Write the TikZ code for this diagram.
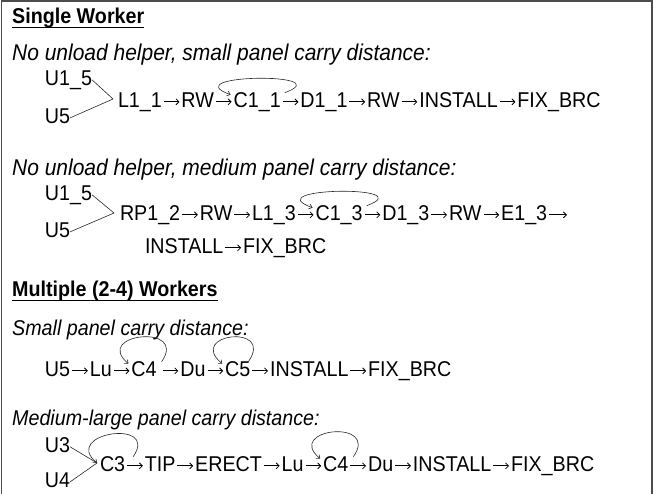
\documentclass[tikz,border=0pt]{standalone}
\usepackage{fontspec}
\setmainfont{Liberation Sans}[FakeStretch=0.92]
\usetikzlibrary{positioning}
\usetikzlibrary{arrows.meta}
\tikzset{
    tok/.style = {inner sep=0pt, outer sep=0pt, text height=15.3pt, text depth=3pt, font=\fontsize{21.4}{25}\selectfont},
    head/.style = {inner sep=0pt, anchor=base west, font=\fontsize{21.4}{25}\selectfont\bfseries},
    note/.style = {inner sep=0pt, anchor=base west, font=\fontsize{22.8}{27}\selectfont\itshape},
    notes/.style = {note, font=\fontsize{21.4}{25}\selectfont\itshape},
    uline/.style = {line width=1.5pt, black},
    flow/.style = {-{Straight Barb[length=3pt,width=6pt]}, line width=0.8pt, black, shorten <=2pt, shorten >=2pt},
    edgen/.style = {-, line width=0.6pt, black!85},
    edgel/.style = {-{Straight Barb[length=3pt,width=5pt]}, line width=0.6pt, black!85}, % loop back
    backflat/.style = {out=20, in=160, distance=60pt},
    backtall/.style = {out=55, in=140, distance=47pt},
    frame/.style = {line width=1.6pt, black!70}
}

\begin{document}
\begin{tikzpicture}[x=1pt, y=-1pt, node distance=19.7pt]
  \useasboundingbox (0,0) rectangle (654,494);
  \draw[frame] (1.5,494) -- (1.5,1) -- (652,1) -- (652,494);

  % single worker
  \node[head] (h1) at (12,24) {Single Worker};
  \draw[uline] ([yshift=-3.5pt]h1.base west) -- ([yshift=-3.5pt]h1.base east);
  \node[note] (n1) at (12,61) {No unload helper, small panel carry distance:};
  \node[tok, anchor=base west] (s1u1) at (45,86) {U1\_5};
  \node[tok, anchor=base west] (s1u2) at (45,124) {U5};
  \coordinate (s1j) at (113,99);
  \node[tok, anchor=base west] (s1l) at (118,108) {L1\_1};
  \node[tok, right=of s1l] (s1rw) {RW};
  \node[tok, right=of s1rw] (s1c) {C1\_1};
  \node[tok, right=of s1c] (s1d) {D1\_1};
  \node[tok, right=of s1d] (s1rw2) {RW};
  \node[tok, right=of s1rw2] (s1ins) {INSTALL};
  \node[tok, right=of s1ins] (s1fix) {FIX\_BRC};
  \draw[flow] (s1l) -- (s1rw);
  \draw[flow] (s1rw) -- (s1c);
  \draw[flow] (s1c) -- (s1d);
  \draw[flow] (s1d) -- (s1rw2);
  \draw[flow] (s1rw2) -- (s1ins);
  \draw[flow] (s1ins) -- (s1fix);
  \draw[edgen] (s1u1.east) -- (s1j) -- (s1u2.east);
  \draw[edgel] ([xshift=4pt]s1c.north east) to[backflat] ([xshift=-3pt,yshift=-2pt]s1c.north west);

  \node[note] (n2) at (12,176) {No unload helper, medium panel carry distance:};
  \node[tok, anchor=base west] (s2u1) at (45,201) {U1\_5};
  \node[tok, anchor=base west] (s2u2) at (45,238) {U5};
  \coordinate (s2j) at (114,213);
  \node[tok, anchor=base west] (s2rp) at (120,221) {RP1\_2};
  \node[tok, right=of s2rp] (s2rw) {RW};
  \node[tok, right=of s2rw] (s2l) {L1\_3};
  \node[tok, right=of s2l] (s2c) {C1\_3};
  \node[tok, right=of s2c] (s2d) {D1\_3};
  \node[tok, right=of s2d] (s2rw2) {RW};
  \node[tok, right=of s2rw2] (s2e) {E1\_3};
  \coordinate[right=of s2e] (s2end);
  \node[tok, anchor=base west] (s2ins) at (145,254) {INSTALL};
  \node[tok, right=of s2ins] (s2fix) {FIX\_BRC};
  \draw[flow] (s2rp) -- (s2rw);
  \draw[flow] (s2rw) -- (s2l);
  \draw[flow] (s2l) -- (s2c);
  \draw[flow] (s2c) -- (s2d);
  \draw[flow] (s2d) -- (s2rw2);
  \draw[flow] (s2rw2) -- (s2e);
  \draw[flow, shorten >=0pt] (s2e) -- (s2end);
  \draw[flow] (s2ins) -- (s2fix);
  \draw[edgen] (s2u1.east) -- (s2j) -- (s2u2.east);
  \draw[edgel] ([xshift=4pt]s2c.north east) to[backflat] ([xshift=-3pt,yshift=-2pt]s2c.north west);

  % multiple workers
  \node[head] (h2) at (12,297) {Multiple (2-4) Workers};
  \draw[uline] ([yshift=-3.5pt]h2.base west) -- ([yshift=-3.5pt]h2.base east);
  \node[notes] (n3) at (12,336) {Small panel carry distance:};
  \node[tok, anchor=base west] (s3u) at (45,377) {U5};
  \node[tok, right=of s3u] (s3lu) {Lu};
  \node[tok, right=of s3lu] (s3c4) {C4};
  \node[tok, right=23.7pt of s3c4] (s3du) {Du};
  \node[tok, right=of s3du] (s3c5) {C5};
  \node[tok, right=of s3c5] (s3ins) {INSTALL};
  \node[tok, right=of s3ins] (s3fix) {FIX\_BRC};
  \draw[flow] (s3u) -- (s3lu);
  \draw[flow] (s3lu) -- (s3c4);
  \draw[flow, shorten <=6pt] (s3c4) -- (s3du);
  \draw[flow] (s3du) -- (s3c5);
  \draw[flow] (s3c5) -- (s3ins);
  \draw[flow] (s3ins) -- (s3fix);
  \draw[edgel] ([xshift=5pt]s3c4.north east) to[backtall] ([xshift=-3pt,yshift=-2pt]s3c4.north west);
  \draw[edgel] ([xshift=-2pt]s3c5.north east) to[backtall] ([xshift=-3pt,yshift=-2pt]s3c5.north west);

  \node[notes] (n4) at (12,426) {Medium-large panel carry distance:};
  \node[tok, anchor=base west] (s4u1) at (45,453) {U3};
  \node[tok, anchor=base west] (s4u2) at (45,488) {U4};
  \coordinate (s4j) at (97,463);
  \node[tok, anchor=base west] (s4c3) at (100,472) {C3};
  \node[tok, right=of s4c3] (s4tip) {TIP};
  \node[tok, right=of s4tip] (s4er) {ERECT};
  \node[tok, right=of s4er] (s4lu) {Lu};
  \node[tok, right=of s4lu] (s4c4) {C4};
  \node[tok, right=of s4c4] (s4du) {Du};
  \node[tok, right=of s4du] (s4ins) {INSTALL};
  \node[tok, right=of s4ins] (s4fix) {FIX\_BRC};
  \draw[flow] (s4c3) -- (s4tip);
  \draw[flow] (s4tip) -- (s4er);
  \draw[flow] (s4er) -- (s4lu);
  \draw[flow] (s4lu) -- (s4c4);
  \draw[flow] (s4c4) -- (s4du);
  \draw[flow] (s4du) -- (s4ins);
  \draw[flow] (s4ins) -- (s4fix);
  \draw[edgen] (s4u1.east) -- (s4j) -- (s4u2.east);
  \draw[edgel] ([xshift=8pt]s4c3.north east) to[backtall] (s4j);
  \draw[edgel] ([xshift=5pt]s4c4.north east) to[backtall] ([xshift=-3pt,yshift=-2pt]s4c4.north west);
\end{tikzpicture}
\end{document}
